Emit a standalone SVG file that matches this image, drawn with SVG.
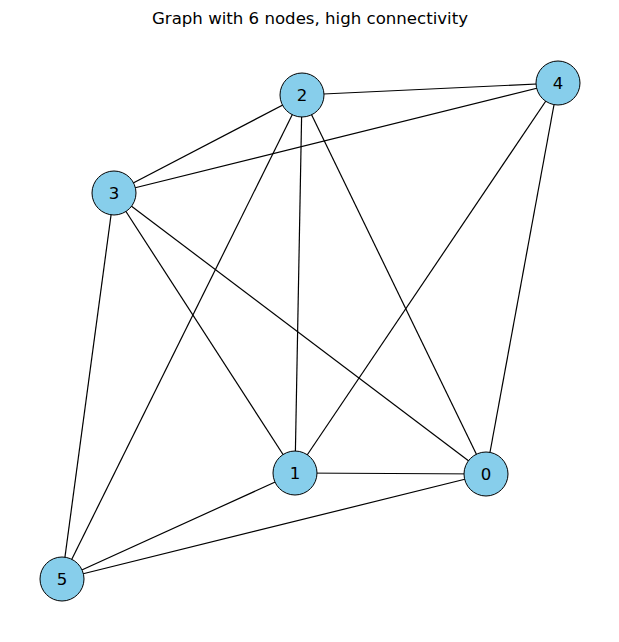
<svg xmlns="http://www.w3.org/2000/svg" width="619" height="642" viewBox="0 0 619 642">
<style>
.e{stroke:#000;stroke-width:1.2;fill:none}
.n circle{fill:#87CEEB;stroke:#000;stroke-width:1}
.n text{font-family:"DejaVu Sans",sans-serif;font-size:16.6px;text-anchor:middle;dominant-baseline:central;fill:#000}
.t{font-family:"DejaVu Sans",sans-serif;font-size:16.6px;text-anchor:middle;fill:#000}
</style>
<rect width="619" height="642" fill="#fff"/>
<text class="t" x="310" y="24">Graph with 6 nodes, high connectivity</text>
<g id="edges">
<line class="e" x1="302" y1="95" x2="558" y2="83"/>
<line class="e" x1="302" y1="95" x2="114" y2="193"/>
<line class="e" x1="302" y1="95" x2="62" y2="579"/>
<line class="e" x1="302" y1="95" x2="295" y2="473"/>
<line class="e" x1="302" y1="95" x2="486" y2="474"/>
<line class="e" x1="558" y1="83" x2="114" y2="193"/>
<line class="e" x1="558" y1="83" x2="295" y2="473"/>
<line class="e" x1="558" y1="83" x2="486" y2="474"/>
<line class="e" x1="114" y1="193" x2="295" y2="473"/>
<line class="e" x1="114" y1="193" x2="486" y2="474"/>
<line class="e" x1="114" y1="193" x2="62" y2="579"/>
<line class="e" x1="295" y1="473" x2="486" y2="474"/>
<line class="e" x1="295" y1="473" x2="62" y2="579"/>
<line class="e" x1="486" y1="474" x2="62" y2="579"/>
</g>
<g id="node0" class="n"><circle cx="486" cy="474" r="22"/><text x="486" y="474">0</text></g>
<g id="node1" class="n"><circle cx="295" cy="473" r="22"/><text x="295" y="473">1</text></g>
<g id="node2" class="n"><circle cx="302" cy="95" r="22"/><text x="302" y="95">2</text></g>
<g id="node3" class="n"><circle cx="114" cy="193" r="22"/><text x="114" y="193">3</text></g>
<g id="node4" class="n"><circle cx="558" cy="83" r="22"/><text x="558" y="83">4</text></g>
<g id="node5" class="n"><circle cx="62" cy="579" r="22"/><text x="62" y="579">5</text></g>
</svg>
